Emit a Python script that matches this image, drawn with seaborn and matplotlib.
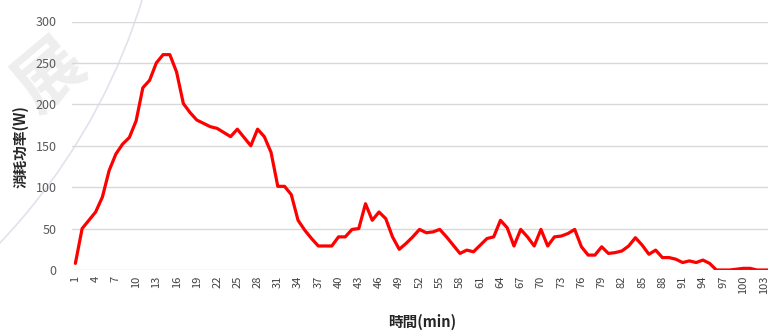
import matplotlib
matplotlib.use("Agg")
import matplotlib.pyplot as plt
import matplotlib.patches as mpatches
import pandas as pd
import seaborn as sns

# Power draw per minute
minutes = list(range(1, 105))
power_w = [
    8, 50, 60, 70, 88, 120, 140, 152, 160, 180,
    220, 229, 250, 260, 260, 239, 201, 190, 181, 177,
    173, 171, 166, 161, 170, 160, 150, 170, 161, 142,
    101, 101, 91, 60, 48, 38, 29, 29, 29, 40,
    40, 49, 50, 80, 60, 70, 62, 40, 25, 32,
    40, 49, 45, 46, 49, 40, 30, 20, 24, 22,
    30, 38, 40, 60, 51, 29, 49, 40, 29, 49,
    29, 40, 41, 44, 49, 28, 18, 18, 28, 20,
    21, 23, 29, 39, 30, 19, 24, 15, 15, 13,
    9, 11, 9, 12, 8, 0, 0, 0, 1, 2,
    2, 0, 0, 0,
]
tick_minutes = list(range(1, 104, 3))
y_ticks = [0, 50, 100, 150, 200, 250, 300]

df = pd.DataFrame({"minute": minutes, "power": power_w})

sns.set_theme(style="white")
plt.rcParams["font.family"] = ["Noto Sans CJK TC", "DejaVu Sans"]

fig = plt.figure(figsize=(7.68, 3.32), dpi=100)
fig.patch.set_facecolor("white")

# faint stamp in the background, on its own axes behind the chart
bg = fig.add_axes([0, 0, 1, 1], zorder=0)
bg.set_xlim(0, 768)
bg.set_ylim(332, 0)
bg.axis("off")
bg.add_patch(mpatches.Arc((-451, -184), 2 * 621, 2 * 621, theta1=0, theta2=90,
                          color="#e0e3eb", lw=1.2))
bg.text(50, 76, "展", fontsize=50, color="#eeeeee", rotation=40,
        ha="center", va="center", fontweight="bold")

ax = fig.add_axes([72 / 768, 62 / 332, 1 - 72 / 768, 248.5 / 332], zorder=1)
ax.set_facecolor("none")

sns.lineplot(data=df, x="minute", y="power", ax=ax, color="#ff0000",
             linewidth=2.3, zorder=3)

ax.set_xlim(0.5, 103.65)
ax.set_ylim(0, 300)
ax.set_yticks(y_ticks)
ax.set_yticklabels([str(v) for v in y_ticks], fontsize=9, color="#595959")
ax.set_xticks(tick_minutes)
ax.set_xticklabels([str(v) for v in tick_minutes], rotation=90, fontsize=8,
                   color="#404040")
ax.tick_params(axis="x", length=0, pad=4)
ax.tick_params(axis="y", length=0, pad=11)

ax.grid(axis="y", color="#d9d9d9", linewidth=1)
ax.grid(axis="x", visible=False)
for s in ax.spines.values():
    s.set_visible(False)
ax.set_axisbelow(True)

ax.set_xlabel("時間(min)", fontsize=10.5, fontweight="bold", color="#262626")
ax.xaxis.set_label_coords((422 - 72) / (768 - 72), -(322 - 270) / 248.5)
ax.xaxis.label.set_va("center")
ax.set_ylabel("消耗功率(W)", fontsize=10.5, fontweight="bold", color="#262626")
ax.yaxis.set_label_coords(-(72 - 21) / (768 - 72), (270 - 147) / 248.5)
ax.yaxis.label.set_va("center")

fig.savefig("out.png", dpi=100, facecolor="white")
